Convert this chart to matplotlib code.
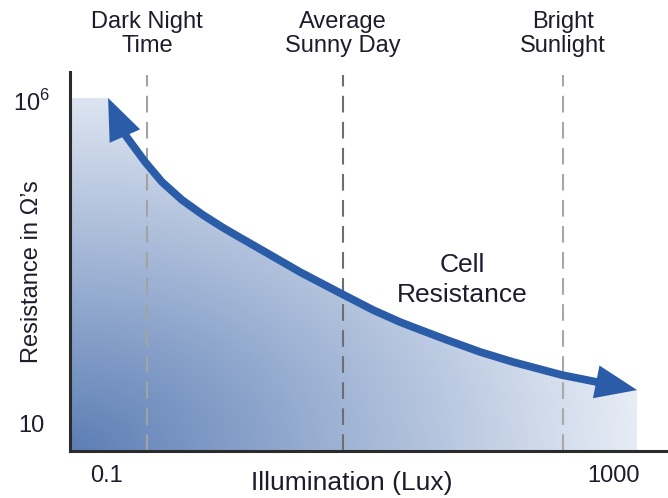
import numpy as np
import matplotlib
matplotlib.use("Agg")
import matplotlib.pyplot as plt
from matplotlib.patches import FancyArrowPatch, Polygon
from matplotlib.path import Path
from matplotlib.transforms import blended_transform_factory

plt.rcParams['font.family'] = ['Liberation Sans', 'DejaVu Sans']
plt.rcParams['mathtext.fontset'] = 'custom'
plt.rcParams['mathtext.rm'] = 'Liberation Sans'

# ---- data ----
curve_lux = [0.102, 0.134, 0.147, 0.20, 0.272, 0.392, 0.574, 0.811, 0.99, 1.84,
             3.36, 7.34, 12.7, 20.7, 26.2, 48.7, 88.9, 162, 395, 748, 1549]
curve_ohm = [1.074e6, 3.20e5, 2.49e5, 1.10e5, 5.38e4, 2.83e4, 1.66e4, 1.08e4, 8.58e3, 4.28e3,
             2.17e3, 975, 561, 366, 306, 193, 126, 88, 55.3, 43.1, 32.4]

zone_lux = [0.207, 7.3, 400]
zone_names = ['Dark Night\nTime', 'Average\nSunny Day', 'Bright\nSunlight']
zone_colors = ['#a3a3a3', '#6e6e6e', '#a8a8a8']

x_ticks = [0.1, 1000]
x_ticklabels = ['0.1', '1000']
y_ticks = [10, 1e6]
y_ticklabels = ['10', '$10^6$']

x_lim = (0.051, 2720)
y_lim = (3.69, 2.71e6)
dash_top = 2.44e6
fill_left = 0.05

txt_col = '#1e1c2c'
blue = '#2a5ca8'

fig = plt.figure(figsize=(6.68, 4.98), dpi=100)
ax = fig.add_axes([70 / 668, 47 / 498, 598 / 668, 379 / 498])
ax.set_xscale('log')
ax.set_yscale('log')
ax.set_autoscale_on(False)
ax.set_xlim(*x_lim)
ax.set_ylim(*y_lim)

# radial-ish gradient, dark at the bottom left corner
u, v = np.meshgrid(np.linspace(0, 1, 300), np.linspace(0, 1, 200))
r = np.clip(np.sqrt(u ** 2 + (0.95 * v) ** 2), 0, 1)
dark = np.array([92, 126, 181]) / 255
light = np.array([238, 242, 249]) / 255
grad = dark + r[..., None] * (light - dark)
im = ax.imshow(grad, extent=(0, 1, 0, 1), transform=ax.transAxes,
               aspect='auto', origin='lower', interpolation='bilinear', zorder=1)

verts = [(fill_left, y_lim[0]), (fill_left, curve_ohm[0])]
verts += list(zip(curve_lux, curve_ohm))
verts += [(curve_lux[-1], y_lim[0])]
clip = Polygon(verts, closed=True, transform=ax.transData)
im.set_clip_path(clip)

# dashed zone markers + labels on top
for xl, col in zip(zone_lux, zone_colors):
    ax.plot([xl, xl], [y_lim[0], dash_top], color=col, lw=1.5,
            linestyle=(0, (8, 4.5)), zorder=2)
trans = blended_transform_factory(ax.transData, fig.transFigure)
for xl, name in zip(zone_lux, zone_names):
    ax.text(xl, 1 - 34 / 498, name, transform=trans, ha='center', va='center',
            fontsize=17, color=txt_col, linespacing=1.1)

# the resistance curve: body as a line, heads as filled arrow wedges
ax.plot(curve_lux[1:-1], curve_ohm[1:-1], color=blue, lw=5.6,
        solid_capstyle='projecting', solid_joinstyle='round', zorder=3)
heads = FancyArrowPatch(path=Path(list(zip(curve_lux, curve_ohm))),
                        arrowstyle='<|-|>,head_length=3.0,head_width=1.2',
                        mutation_scale=10, lw=0, color=blue,
                        transform=ax.transData, zorder=3)
ax.add_patch(heads)

ax.text(64, 1.62e3, 'Cell\nResistance', ha='center', va='center',
        fontsize=19, color=txt_col, linespacing=1.3)

# axes styling
for s in ['top', 'right']:
    ax.spines[s].set_visible(False)
for s in ['left', 'bottom']:
    ax.spines[s].set_color('#2b2b2b')
    ax.spines[s].set_linewidth(2.2)
ax.set_xticks(x_ticks, x_ticklabels)
ax.set_yticks(y_ticks, y_ticklabels)
ax.minorticks_off()
ax.tick_params(axis='both', length=0, labelsize=17, labelcolor=txt_col)
ax.tick_params(axis='x', pad=10)
ax.tick_params(axis='y', pad=28)
for lab in ax.get_yticklabels():
    lab.set_horizontalalignment('center')

ax.set_xlabel('Illumination (Lux)', fontsize=19, color=txt_col, va='center')
ax.xaxis.set_label_coords((352 - 70) / 598, -32 / 379)
ax.set_ylabel('Resistance in Ω’s', fontsize=17, color=txt_col, va='center')
ax.yaxis.set_label_coords(-38 / 598, 179 / 379)

fig.savefig('out.png', dpi=100)
